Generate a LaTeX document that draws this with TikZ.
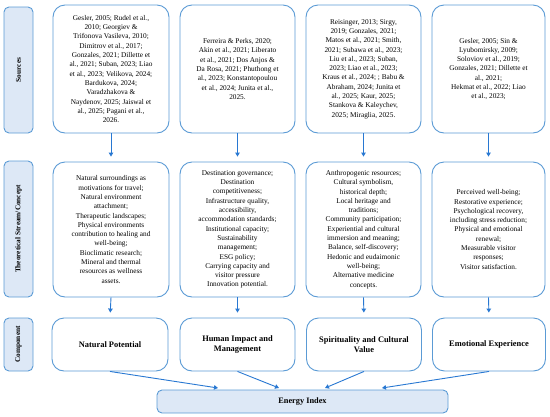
\documentclass[tikz,border=0pt]{standalone}
\usepackage{fontspec}
\setmainfont{Liberation Serif}
\usetikzlibrary{arrows.meta,calc}
\definecolor{bord}{RGB}{91,155,213}
\definecolor{lfill}{RGB}{221,232,246}
\definecolor{arr}{RGB}{40,120,210}
\begin{document}
\begin{tikzpicture}[x=1pt,y=-1pt,
 box/.style={draw=bord,line width=0.9pt,rounded corners=12pt,fill=white,align=center,inner sep=0pt,font=\fontsize{7.3}{9.3}\selectfont},
 lab/.style={draw=bord,line width=0.9pt,rounded corners=5pt,fill=lfill,inner sep=0pt},
 labtxt/.style={rotate=90,font=\bfseries\fontsize{7.3}{8}\selectfont},
 comp/.style={box,font=\bfseries\fontsize{8.4}{10.5}\selectfont},
 arrow/.style={draw=arr,line width=0.9pt,-{Triangle[length=4pt,width=4.5pt]}}]
\useasboundingbox (0,0) rectangle (550,416);
% left labels
\node[lab,minimum width=29pt,minimum height=126pt] (ls) at (18.5,70) {};
\node[labtxt] (lst) at (ls.center) {Sources};
\node[lab,minimum width=29pt,minimum height=136pt] (lt) at (18.5,229) {};
\node[labtxt] (ltt) at (lt.center) {Theoretical Stream/Concept};
\node[lab,minimum width=29pt,minimum height=53pt] (lc) at (18.5,344.5) {};
\node[labtxt] (lct) at (lc.center) {Component};
% sources
\node[box,minimum width=116pt,minimum height=128pt] (s1) at (111,69) {Gesler, 2005; Rudel et al.,\\2010; Georgiev \&\\Trifonova Vasileva, 2010;\\Dimitrov et al., 2017;\\Gonzales, 2021; Dillette et\\al., 2021; Suban, 2023; Liao\\et al., 2023; Velikova, 2024;\\Bardukova, 2024;\\Varadzhakova \&\\Naydenov, 2025; Jaiswal et\\al., 2025; Pagani et al.,\\2026.};
\node[box,minimum width=115pt,minimum height=128pt] (s2) at (237.5,69) {Ferreira \& Perks, 2020;\\Akin et al., 2021; Liberato\\et al., 2021; Dos Anjos \&\\Da Rosa, 2021; Phuthong et\\al., 2023; Konstantopoulou\\et al., 2024; Junita et al.,\\2025.};
\node[box,minimum width=115pt,minimum height=128pt] (s3) at (363.5,69) {Reisinger, 2013; Sirgy,\\2019; Gonzales, 2021;\\Matos et al., 2021; Smith,\\2021; Subawa et al., 2023;\\Liu et al., 2023; Suban,\\2023; Liao et al., 2023;\\Kraus et al., 2024; ; Babu \&\\Abraham, 2024; Junita et\\al., 2025; Kaur, 2025;\\Stankova \& Kaleychev,\\2025; Miraglia, 2025.};
\node[box,minimum width=113pt,minimum height=128pt] (s4) at (488.5,69) {Gesler, 2005; Sin \&\\Lyubomirsky, 2009;\\Soloviov et al., 2019;\\Gonzales, 2021; Dillette et\\al., 2021;\\Hekmat et al., 2022; Liao\\et al., 2023;};
% theoretical
\node[box,minimum width=116pt,minimum height=135pt] (t1) at (111,229.5) {Natural surroundings as\\motivations for travel;\\Natural environment\\attachment;\\Therapeutic landscapes;\\Physical environments\\contribution to healing and\\well-being;\\Bioclimatic research;\\Mineral and thermal\\resources as wellness\\assets.};
\node[box,minimum width=115pt,minimum height=135pt] (t2) at (237.5,229.5) {Destination governance;\\Destination\\competitiveness;\\Infrastructure quality,\\accessibility,\\accommodation standards;\\Institutional capacity;\\Sustainability\\management;\\ESG policy;\\Carrying capacity and\\visitor pressure\\Innovation potential.};
\node[box,minimum width=115pt,minimum height=135pt] (t3) at (363.5,229.5) {Anthropogenic resources;\\Cultural symbolism,\\historical depth;\\Local heritage and\\traditions;\\Community participation;\\Experiential and cultural\\immersion and meaning;\\Balance, self-discovery;\\Hedonic and eudaimonic\\well-being;\\Alternative medicine\\concepts.};
\node[box,minimum width=113pt,minimum height=135pt] (t4) at (488.5,229.5) {Perceived well-being;\\Restorative experience;\\Psychological recovery,\\including stress reduction;\\Physical and emotional\\renewal;\\Measurable visitor\\responses;\\Visitor satisfaction.};
% components
\node[comp,minimum width=116pt,minimum height=53pt] (c1) at (110,344.5) {Natural Potential};
\node[comp,minimum width=115pt,minimum height=53pt] (c2) at (237.5,344.5) {Human Impact and\\Management};
\node[comp,minimum width=115pt,minimum height=53pt] (c3) at (364,344.5) {Spirituality and Cultural\\Value};
\node[comp,minimum width=113pt,minimum height=53pt] (c4) at (489,344.5) {Emotional Experience};
% energy index
\node[lab,minimum width=291pt,minimum height=23pt,font=\bfseries\fontsize{8.3}{9}\selectfont] (en) at (302.5,401.5) {Energy Index};
% arrows
\foreach \i in {1,2,3,4}{
 \draw[arrow,shorten >=5pt] (s\i.south) -- (t\i.north);
 \draw[arrow,shorten >=5pt] (t\i.south) -- (c\i.north);
}
\coordinate (e1) at (218,388);
\coordinate (e2) at (279,388);
\coordinate (e3) at (325,388);
\coordinate (e4) at (382,388);
\foreach \i in {1,2,3,4}{
 \draw[arrow] (c\i.south) -- (e\i);
}
\end{tikzpicture}
\end{document}
